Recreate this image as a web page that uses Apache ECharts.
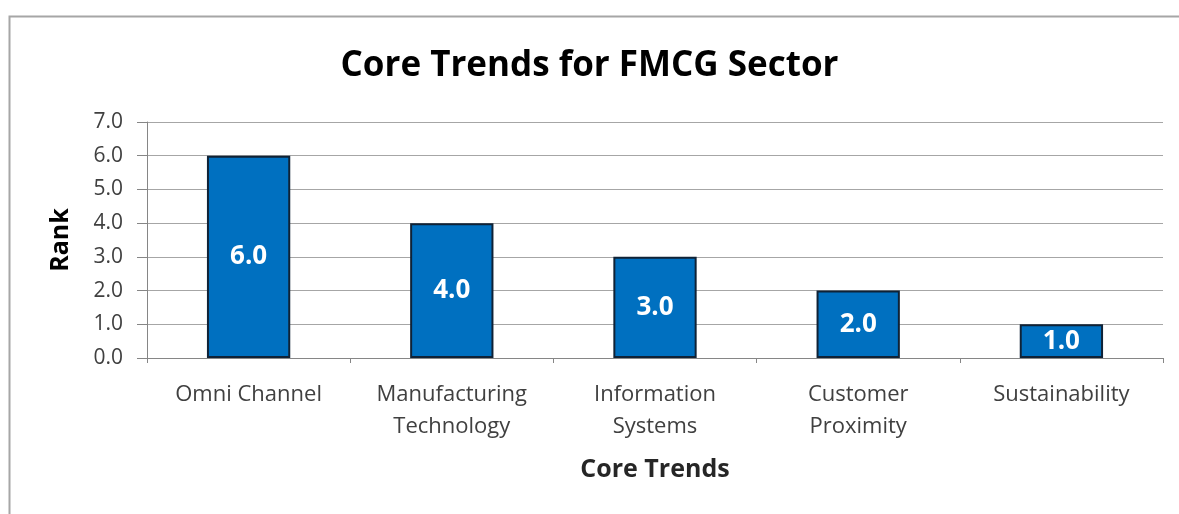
<!DOCTYPE html>
<html>
<head>
<meta charset="utf-8">
<style>
  html, body { margin: 0; padding: 0; background: #ffffff; }
  #chart { width: 1179px; height: 514px; }
</style>
<script src="https://cdn.jsdelivr.net/npm/echarts@6/dist/echarts.min.js"></script>
</head>
<body>
<div id="chart"></div>
<script>
// Core trend categories and their ranks
const categories = ['Omni Channel', 'Manufacturing\nTechnology', 'Information\nSystems', 'Customer\nProximity', 'Sustainability'];
const ranks = [6.0, 4.0, 3.0, 2.0, 1.0];

const FONT = '"Open Sans", "Noto Sans", sans-serif';

const chart = echarts.init(document.getElementById('chart'), null, { renderer: 'canvas' });

chart.setOption({
  backgroundColor: '#ffffff',
  animation: false,
  title: {
    text: 'Core Trends for FMCG Sector',
    left: 'center',
    top: 44,
    textStyle: { fontFamily: FONT, fontSize: 35, fontWeight: 'bold', color: '#000000' }
  },
  graphic: [{
    type: 'polyline',
    shape: { points: [[9.5, 514], [9.5, 16.5], [1179, 16.5]] },
    style: { stroke: '#a6a6a6', lineWidth: 2, fill: null },
    silent: true
  }],
  grid: { left: 147, right: 16, top: 122, bottom: 156, containLabel: false },
  xAxis: {
    type: 'category',
    data: categories,
    name: 'Core Trends',
    nameLocation: 'middle',
    nameGap: 99,
    nameTextStyle: { fontFamily: FONT, fontSize: 25, fontWeight: 'bold', color: '#262626' },
    axisLine: { lineStyle: { color: '#868686', width: 1 } },
    axisTick: { show: true, alignWithLabel: false, length: 5, lineStyle: { color: '#868686' } },
    axisLabel: { fontFamily: FONT, fontSize: 22, color: '#404040', margin: 21, lineHeight: 32, interval: 0 }
  },
  yAxis: {
    type: 'value',
    min: 0,
    max: 7,
    interval: 1,
    name: 'Rank',
    nameLocation: 'middle',
    nameGap: 74,
    nameRotate: 90,
    nameTextStyle: { fontFamily: FONT, fontSize: 25, fontWeight: 'bold', color: '#000000' },
    axisLine: { show: true, lineStyle: { color: '#868686', width: 1 } },
    axisTick: { show: true, length: 10, inside: false, lineStyle: { color: '#868686' } },
    axisLabel: {
      fontFamily: FONT, fontSize: 21, color: '#404040', margin: 24,
      formatter: v => v.toFixed(1)
    },
    splitLine: { show: true, lineStyle: { color: '#a6a6a6', width: 1 } }
  },
  series: [{
    type: 'bar',
    data: ranks,
    barWidth: '41%',
    itemStyle: { color: '#0070c0', borderColor: '#0f2236', borderWidth: 2 },
    label: {
      show: true,
      position: 'inside',
      formatter: p => p.value.toFixed(1),
      fontFamily: FONT, fontSize: 26, fontWeight: 'bold', color: '#ffffff'
    }
  }]
});
</script>
</body>
</html>
